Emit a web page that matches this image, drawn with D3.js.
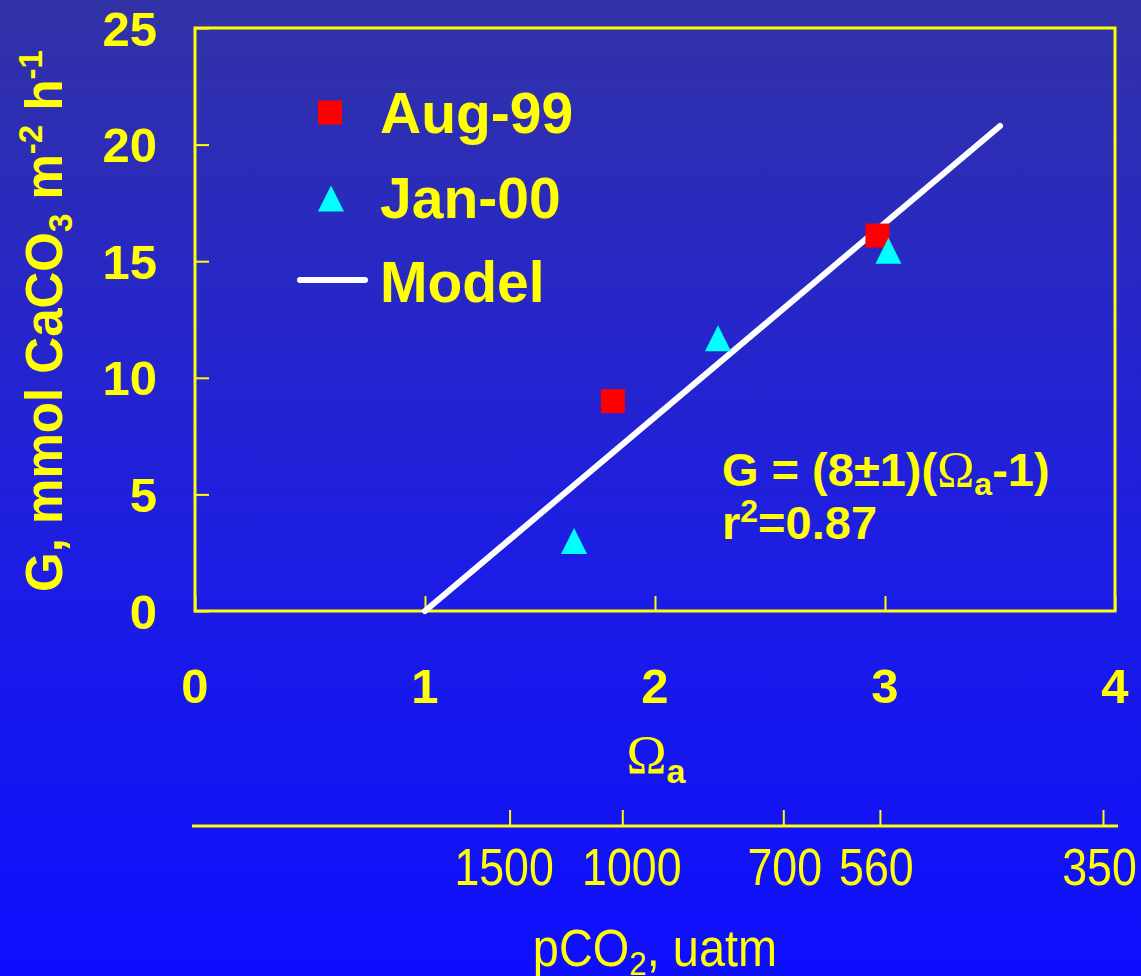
<!DOCTYPE html>
<html>
<head>
<meta charset="utf-8">
<script src="https://cdn.jsdelivr.net/npm/d3@7"></script>
<style>
  html, body { margin: 0; padding: 0; }
  body { width: 1141px; height: 976px; overflow: hidden; }
  svg { display: block; }
</style>
</head>
<body>
<svg id="chart" width="1141" height="976"></svg>
<script>
// Calcification rate vs aragonite saturation state
const xTicks = [0, 1, 2, 3, 4];
const yTicks = [0, 5, 10, 15, 20, 25];

const augOmega = [1.817, 2.967];
const augG = [9.0, 16.1];

const janOmega = [1.648, 2.274, 3.015];
const janG = [3.0, 11.7, 15.45];

const modelOmega = [1.0, 3.5];
const modelG = [0.0, 20.8];

// Secondary pCO2 axis: labels and their Omega-equivalent positions
const pco2Labels = [1500, 1000, 700, 560, 350];
const pco2Omega = [1.37, 1.86, 2.56, 2.98, 3.95];

(function () {
const svg = d3.select("#chart");
const W = 1141, H = 976;
const yellow = "#ffff00";

// background gradient
const defs = svg.append("defs");
const grad = defs.append("linearGradient").attr("id", "bg")
  .attr("x1", 0).attr("y1", 0).attr("x2", 0).attr("y2", 1);
grad.append("stop").attr("offset", "0%").attr("stop-color", "#3232a6");
grad.append("stop").attr("offset", "60%").attr("stop-color", "#1c1ce6");
grad.append("stop").attr("offset", "100%").attr("stop-color", "#0e0eff");
svg.append("rect").attr("width", W).attr("height", H).attr("fill", "url(#bg)");

const mLeft = 195, mRight = 1115, mTop = 28, mBottom = 611;
const x = d3.scaleLinear().domain([0, 4]).range([mLeft, mRight]);
const y = d3.scaleLinear().domain([0, 25]).range([mBottom, mTop]);

// frame
svg.append("rect")
  .attr("x", mLeft).attr("y", mTop)
  .attr("width", mRight - mLeft).attr("height", mBottom - mTop)
  .attr("fill", "none").attr("stroke", yellow).attr("stroke-width", 3);

const tickFont = "'Liberation Sans', Arial, sans-serif";
const serifFont = "'Liberation Serif', 'Times New Roman', serif";

// y axis (inner ticks)
const yAxis = svg.append("g").attr("transform", `translate(${mLeft},0)`)
  .call(d3.axisRight(y).tickValues(yTicks).tickSize(14).tickFormat(""));
yAxis.select(".domain").remove();
yAxis.selectAll("line").attr("stroke", yellow).attr("stroke-width", 2);

svg.append("g").selectAll("text").data(yTicks).join("text")
  .attr("x", 157).attr("y", d => y(d)).attr("dy", "0.36em")
  .attr("text-anchor", "end")
  .attr("font-family", tickFont).attr("font-weight", "bold")
  .attr("font-size", 49).attr("fill", yellow)
  .text(d => d);

// x axis (inner ticks)
const xAxis = svg.append("g").attr("transform", `translate(0,${mBottom})`)
  .call(d3.axisTop(x).tickValues(xTicks).tickSize(15).tickFormat(""));
xAxis.select(".domain").remove();
xAxis.selectAll("line").attr("stroke", yellow).attr("stroke-width", 2);

svg.append("g").selectAll("text").data(xTicks).join("text")
  .attr("x", d => x(d)).attr("y", 703)
  .attr("text-anchor", "middle")
  .attr("font-family", tickFont).attr("font-weight", "bold")
  .attr("font-size", 49).attr("fill", yellow)
  .text(d => d);

// x axis title: Omega_a
const omTitle = svg.append("text")
  .attr("x", 656).attr("y", 773).attr("text-anchor", "middle")
  .attr("fill", yellow);
omTitle.append("tspan").attr("font-family", serifFont)
  .attr("font-size", 54).text("Ω");
omTitle.append("tspan").attr("font-family", tickFont).attr("font-weight", "bold")
  .attr("font-size", 34).attr("dy", 10).text("a");

// y axis title
const yTitle = svg.append("text")
  .attr("transform", "translate(62,321) rotate(-90)")
  .attr("text-anchor", "middle")
  .attr("font-family", tickFont).attr("font-weight", "bold")
  .attr("font-size", 51).attr("fill", yellow);
yTitle.append("tspan").text("G, mmol CaCO");
yTitle.append("tspan").attr("font-size", 33).attr("dy", 10).text("3");
yTitle.append("tspan").attr("dy", -10).text(" m");
yTitle.append("tspan").attr("font-size", 33).attr("dy", -20).text("-2");
yTitle.append("tspan").attr("dy", 20).text(" h");
yTitle.append("tspan").attr("font-size", 33).attr("dy", -20).text("-1");

// model line
const line = d3.line().x(d => x(d[0])).y(d => y(d[1]));
svg.append("path")
  .datum(d3.zip(modelOmega, modelG))
  .attr("d", line)
  .attr("fill", "none").attr("stroke", "#ffffff")
  .attr("stroke-width", 6).attr("stroke-linecap", "round");

// marker shapes
const sq = 24;
const triShape = {
  draw(ctx, size) {
    const h = Math.sqrt(size) / 2;
    ctx.moveTo(0, -h);
    ctx.lineTo(h, h);
    ctx.lineTo(-h, h);
    ctx.closePath();
  }
};
const tri = d3.symbol().type(triShape).size(26 * 26);

// Aug-99 squares
svg.append("g").selectAll("rect").data(d3.zip(augOmega, augG)).join("rect")
  .attr("x", d => x(d[0]) - sq / 2).attr("y", d => y(d[1]) - sq / 2)
  .attr("width", sq).attr("height", sq).attr("fill", "#ff0000");

// Jan-00 triangles
svg.append("g").selectAll("path").data(d3.zip(janOmega, janG)).join("path")
  .attr("transform", d => `translate(${x(d[0])},${y(d[1])})`)
  .attr("d", tri).attr("fill", "#00ffff");

// legend
const legFont = 57;
svg.append("rect").attr("x", 330 - sq / 2).attr("y", 112.5 - sq / 2)
  .attr("width", sq).attr("height", sq).attr("fill", "#ff0000");
svg.append("path").attr("transform", "translate(331,198.5)")
  .attr("d", tri).attr("fill", "#00ffff");
svg.append("line").attr("x1", 300).attr("x2", 365).attr("y1", 280).attr("y2", 280)
  .attr("stroke", "#ffffff").attr("stroke-width", 6).attr("stroke-linecap", "round");
const legendLabels = ["Aug-99", "Jan-00", "Model"];
const legendBase = [133, 218, 302];
svg.append("g").selectAll("text").data(legendLabels).join("text")
  .attr("x", 380).attr("y", (d, i) => legendBase[i])
  .attr("font-family", tickFont).attr("font-weight", "bold")
  .attr("font-size", legFont).attr("fill", yellow)
  .text(d => d);

// equation annotation
const eqSize = 47;
const eq = svg.append("text").attr("x", 722).attr("y", 486)
  .attr("font-family", tickFont).attr("font-weight", "bold")
  .attr("font-size", eqSize).attr("fill", yellow);
eq.append("tspan").text("G = (8±1)(");
eq.append("tspan").attr("font-family", serifFont)
  .attr("font-weight", "normal").attr("font-size", 50).text("Ω");
eq.append("tspan").attr("font-size", 32).attr("dy", 9).text("a");
eq.append("tspan").attr("dy", -9).text("-1)");

const r2 = svg.append("text").attr("x", 722).attr("y", 539)
  .attr("font-family", tickFont).attr("font-weight", "bold")
  .attr("font-size", eqSize).attr("fill", yellow);
r2.append("tspan").text("r");
r2.append("tspan").attr("font-size", 32).attr("dy", -17).text("2");
r2.append("tspan").attr("dy", 17).text("=0.87");

// pCO2 secondary axis
const pAxisY = 826;
svg.append("line").attr("x1", 192).attr("x2", 1118)
  .attr("y1", pAxisY).attr("y2", pAxisY)
  .attr("stroke", yellow).attr("stroke-width", 3);
svg.append("g").selectAll("line").data(pco2Omega).join("line")
  .attr("x1", d => x(d)).attr("x2", d => x(d))
  .attr("y1", pAxisY).attr("y2", pAxisY - 16)
  .attr("stroke", yellow).attr("stroke-width", 2);

const labelShift = [-6, 9, 1, -4, -4];
svg.append("g").selectAll("text").data(pco2Labels).join("text")
  .attr("transform", (d, i) => `translate(${x(pco2Omega[i]) + labelShift[i]},885) scale(0.86,1)`)
  .attr("text-anchor", "middle")
  .attr("font-family", tickFont)
  .attr("font-size", 52).attr("fill", yellow)
  .text(d => d);

const pTitle = svg.append("text")
  .attr("transform", "translate(655,966) scale(0.92,1)")
  .attr("text-anchor", "middle")
  .attr("font-family", tickFont)
  .attr("font-size", 51).attr("fill", yellow);
pTitle.append("tspan").text("pCO");
pTitle.append("tspan").attr("font-size", 34).attr("dy", 9).text("2");
pTitle.append("tspan").attr("dy", -9).text(", uatm");
})();
</script>
</body>
</html>
